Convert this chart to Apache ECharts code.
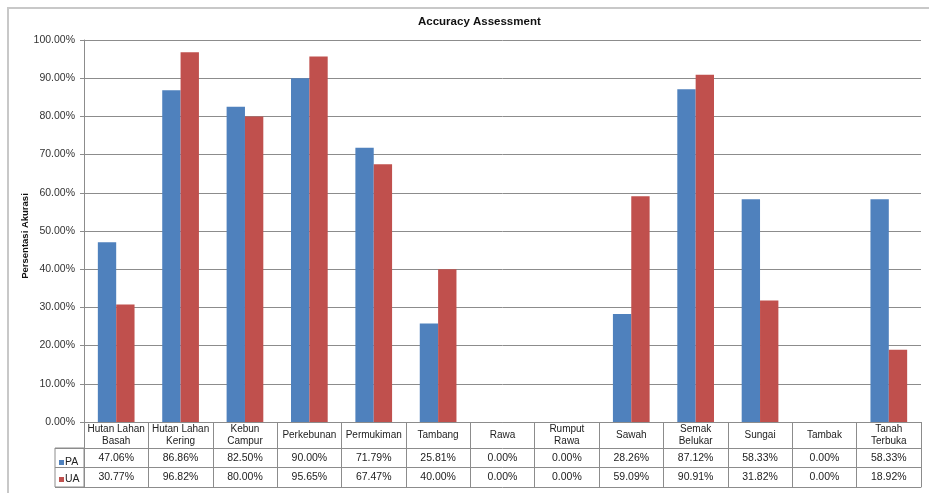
<!DOCTYPE html>
<html>
<head>
<meta charset="utf-8">
<script src="https://cdn.jsdelivr.net/npm/echarts@6/dist/echarts.min.js"></script>
<style>
  html, body { margin: 0; padding: 0; background: #fff; }
  #chart { width: 929px; height: 493px; }
</style>
</head>
<body>
<div id="chart"></div>
<script>
// categories shown in table header (line breaks as in the original)
var kelas = ['Hutan Lahan\nBasah', 'Hutan Lahan\nKering', 'Kebun\nCampur', 'Perkebunan', 'Permukiman',
    'Tambang', 'Rawa', 'Rumput\nRawa', 'Sawah', 'Semak\nBelukar', 'Sungai', 'Tambak', 'Tanah\nTerbuka'];
// producer's accuracy / user's accuracy (fraction)
var pa = [0.4706, 0.8686, 0.8250, 0.9000, 0.7179, 0.2581, 0, 0, 0.2826, 0.8712, 0.5833, 0, 0.5833];
var ua = [0.3077, 0.9682, 0.8000, 0.9565, 0.6747, 0.4000, 0, 0, 0.5909, 0.9091, 0.3182, 0, 0.1892];
var yTicks = [0, 0.1, 0.2, 0.3, 0.4, 0.5, 0.6, 0.7, 0.8, 0.9, 1.0];

var fontFam = 'Liberation Sans, Arial, sans-serif';
var garis = '#8c8c8c';
var teks = '#222';

function pct(v) {
    return (v * 100).toFixed(2) + '%';
}

var chart = echarts.init(document.getElementById('chart'));

// extra x axes used as rows of the data table under the plot
function barisTabel(offset, nilai, margin) {
    return {
        type: 'category',
        gridIndex: 0,
        position: 'bottom',
        offset: offset,
        data: kelas,
        axisLine: { show: true, lineStyle: { color: garis, width: 1 } },
        axisTick: { show: false },
        axisLabel: {
            show: nilai != null,
            interval: 0,
            margin: margin,
            verticalAlign: 'middle',
            fontFamily: fontFam,
            fontSize: 10.5,
            color: teks,
            formatter: function (v, i) { return nilai ? pct(nilai[i]) : ''; }
        }
    };
}

var option = {
    backgroundColor: '#fff',
    animation: false,
    title: {
        text: 'Accuracy Assessment',
        left: 413,
        top: 11,
        textStyle: { fontFamily: fontFam, fontSize: 11.5, fontWeight: 'bold', color: '#111' }
    },
    legend: {
        orient: 'vertical',
        left: 54,
        top: 452,
        itemGap: 6,
        itemWidth: 5,
        itemHeight: 5,
        icon: 'rect',
        data: ['PA', 'UA'],
        textStyle: { fontFamily: fontFam, fontSize: 10.5, color: teks, padding: [0, 0, 0, -4] }
    },
    graphic: [{
        type: 'rect',
        shape: { x: 8, y: 8, width: 940, height: 495 },
        style: { fill: 'none', stroke: '#c8c8c8', lineWidth: 2 },
        silent: true
    }],
    grid: [
        { left: 84, right: 8, top: 40, bottom: 71 },
        // small cell at the left of the table holding the legend keys
        { left: 55, width: 29, top: 448, height: 39, show: true, borderColor: garis, borderWidth: 1 }
    ],
    xAxis: [
        {
            type: 'category',
            gridIndex: 0,
            data: kelas,
            axisLine: { show: true, lineStyle: { color: garis, width: 1 } },
            axisTick: { show: true, length: 65, lineStyle: { color: garis, width: 1 } },
            axisLabel: {
                interval: 0,
                margin: 13,
                verticalAlign: 'middle',
                lineHeight: 12,
                fontFamily: fontFam,
                fontSize: 10,
                color: teks
            }
        },
        barisTabel(26, pa, 10),
        barisTabel(45, ua, 10),
        barisTabel(65, null, 0),
        { type: 'value', gridIndex: 1, show: false }
    ],
    yAxis: [
        {
            type: 'value',
            gridIndex: 0,
            min: 0,
            max: 1,
            interval: 0.1,
            name: 'Persentasi Akurasi',
            nameLocation: 'middle',
            nameGap: 54,
            nameMoveOverlap: false,
            nameTextStyle: {
                fontFamily: fontFam, fontSize: 9.5, fontWeight: 'bold', color: '#111',
                padding: [0, 10, 0, 0]
            },
            axisLine: { show: true, lineStyle: { color: garis, width: 1 } },
            axisTick: { show: true, length: 4, lineStyle: { color: garis } },
            splitLine: { show: true, lineStyle: { color: garis, width: 1 } },
            axisLabel: {
                margin: 9,
                fontFamily: fontFam,
                fontSize: 10.5,
                color: '#333',
                padding: [5, 0, 0, 0],
                customValues: yTicks,
                formatter: function (v) { return pct(v); }
            }
        },
        {
            type: 'category',
            gridIndex: 1,
            data: ['PA', 'UA'],
            inverse: true,
            axisLine: { show: false },
            axisTick: { show: false },
            axisLabel: { show: false },
            splitLine: { show: true, lineStyle: { color: garis, width: 1 } }
        }
    ],
    series: [
        {
            name: 'PA',
            type: 'bar',
            xAxisIndex: 0,
            yAxisIndex: 0,
            data: pa,
            barGap: '0%',
            barCategoryGap: '43%',
            itemStyle: { color: '#4f81bd' }
        },
        {
            name: 'UA',
            type: 'bar',
            xAxisIndex: 0,
            yAxisIndex: 0,
            data: ua,
            itemStyle: { color: '#c0504d' }
        }
    ]
};

chart.setOption(option);
</script>
</body>
</html>
